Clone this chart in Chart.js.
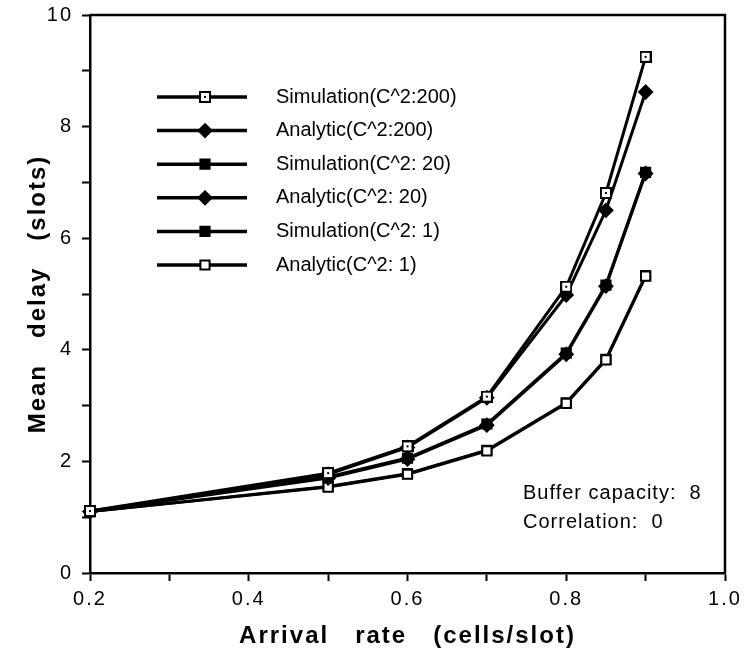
<!DOCTYPE html>
<html>
<head>
<meta charset="utf-8">
<title>Mean delay vs arrival rate</title>
<script src="https://cdn.jsdelivr.net/npm/chart.js@4.4.1/dist/chart.umd.min.js"></script>
<style>
    html, body { margin: 0; padding: 0; background: #fff; }
    #wrap { width: 745px; height: 654px; }
</style>
</head>
<body>
<div id="wrap"><canvas id="delayChart" width="745" height="654"></canvas></div>
<script>
// ========================
// DATA
// ========================
const arrivalRates = [0.2, 0.5, 0.6, 0.7, 0.8, 0.85, 0.9];

const simC200 = [1.11, 1.79, 2.27, 3.16, 5.13, 6.81, 9.25];
const anaC200 = [1.10, 1.77, 2.25, 3.14, 4.98, 6.50, 8.62];
const simC20  = [1.11, 1.72, 2.06, 2.67, 3.94, 5.16, 7.18];
const anaC20  = [1.10, 1.70, 2.04, 2.65, 3.92, 5.14, 7.16];
const simC1   = [1.10, 1.55, 1.78, 2.20, 3.05, 3.83, 5.33];
const anaC1   = [1.10, 1.54, 1.77, 2.19, 3.04, 3.82, 5.32];

const seriesLabels = [
    'Simulation(C^2:200)',
    'Analytic(C^2:200)',
    'Simulation(C^2: 20)',
    'Analytic(C^2: 20)',
    'Simulation(C^2: 1)',
    'Analytic(C^2: 1)'
];

const xTickValues = [0.2, 0.3, 0.4, 0.5, 0.6, 0.7, 0.8, 0.9, 1.0];
const xTickLabels = ['0.2', '', '0.4', '', '0.6', '', '0.8', '', '1.0'];
const yTickValues = [0, 1, 2, 3, 4, 5, 6, 7, 8, 9, 10];
const yTickLabels = ['0', '', '2', '', '4', '', '6', '', '8', '', '10'];

const noteLines = ['Buffer capacity:  8', 'Correlation:  0'];

// ========================
// STYLE HELPERS
// ========================
const FONT = '"Liberation Sans", Arial, Helvetica, sans-serif';

// open square with a small dot in the middle
function dottedSquare() {
    const c = document.createElement('canvas');
    c.width = 12; c.height = 12;
    const g = c.getContext('2d');
    g.fillStyle = '#000';
    g.fillRect(0, 0, 12, 12);
    g.fillStyle = '#fff';
    g.fillRect(2, 2, 8, 8);
    g.fillStyle = '#000';
    g.fillRect(5, 5, 2, 2);
    return c;
}

function toPoints(values) {
    return arrivalRates.map((x, i) => ({ x: x, y: values[i] }));
}

function makeSeries(label, values, style, fill, order) {
    return {
        label: label,
        data: toPoints(values),
        borderColor: '#000',
        borderWidth: 3,
        pointStyle: style,
        pointRadius: 6.5,
        pointHoverRadius: 6.5,
        pointBackgroundColor: fill,
        pointBorderColor: '#000',
        pointBorderWidth: 2,
        tension: 0,
        clip: false,
        order: order
    };
}

// ========================
// PLUGINS
// ========================
const frameAndText = {
    id: 'frameAndText',
    beforeDraw(chart) {
        chart.ctx.letterSpacing = '2px';
    },
    beforeDatasetsDraw(chart) {
        const ctx = chart.ctx;
        const a = chart.chartArea;
        ctx.save();
        ctx.letterSpacing = '0px';
        ctx.strokeStyle = '#000';
        ctx.lineWidth = 2.5;
        ctx.beginPath();
        ctx.moveTo(a.left, a.top);
        ctx.lineTo(a.right, a.top);
        ctx.lineTo(a.right, a.bottom);
        ctx.stroke();
        ctx.restore();
    },
    afterDraw(chart) {
        const ctx = chart.ctx;
        ctx.save();
        ctx.letterSpacing = '0px';

        // legend inside the plot
        chart.data.datasets.forEach((ds, i) => {
            const y = 97 + i * 33.6;
            ctx.strokeStyle = '#000';
            ctx.lineWidth = 3.5;
            ctx.beginPath();
            ctx.moveTo(157, y);
            ctx.lineTo(247, y);
            ctx.stroke();

            ctx.fillStyle = ds.pointBackgroundColor;
            ctx.strokeStyle = '#000';
            ctx.lineWidth = ds.pointBorderWidth;
            Chart.helpers.drawPoint(ctx, {
                pointStyle: ds.pointStyle,
                radius: ds.pointRadius,
                borderWidth: ds.pointBorderWidth,
                rotation: 0
            }, 205, y);

            ctx.fillStyle = '#000';
            ctx.font = '20px ' + FONT;
            ctx.textBaseline = 'middle';
            ctx.textAlign = 'left';
            ctx.fillText(ds.label, 276, y);
        });

        // notes, bottom right
        ctx.letterSpacing = '1px';
        ctx.font = '20px ' + FONT;
        ctx.fillStyle = '#000';
        ctx.textBaseline = 'alphabetic';
        noteLines.forEach((t, i) => {
            ctx.fillText(t, 523, 499 + i * 29);
        });
        ctx.restore();
    }
};

// ========================
// CHART
// ========================
const ctx = document.getElementById('delayChart').getContext('2d');
const delayChart = new Chart(ctx, {
    type: 'line',
    data: {
        datasets: [
            makeSeries(seriesLabels[0], simC200, dottedSquare(), '#fff', 0),
            makeSeries(seriesLabels[1], anaC200, 'rectRot', '#000', 1),
            makeSeries(seriesLabels[2], simC20, 'rect', '#000', 2),
            makeSeries(seriesLabels[3], anaC20, 'rectRot', '#000', 3),
            makeSeries(seriesLabels[4], simC1, 'rect', '#000', 5),
            makeSeries(seriesLabels[5], anaC1, 'rect', '#fff', 4)
        ]
    },
    options: {
        responsive: false,
        devicePixelRatio: 1,
        animation: false,
        layout: { padding: { left: 0, right: 20, top: 15, bottom: 0 } },
        plugins: {
            legend: { display: false },
            tooltip: { enabled: false }
        },
        scales: {
            x: {
                type: 'linear',
                min: 0.2,
                max: 1.0,
                afterFit: s => { s.height = 81; s.paddingLeft = 0; s.paddingRight = 0; },
                afterBuildTicks: s => { s.ticks = xTickValues.map(v => ({ value: v })); },
                grid: { drawOnChartArea: false, drawTicks: true, tickLength: 8, tickWidth: 2, tickColor: '#000' },
                border: { color: '#000', width: 2.5 },
                ticks: {
                    color: '#000',
                    autoSkip: false,
                    maxRotation: 0,
                    padding: 6,
                    font: { family: FONT, size: 20 },
                    callback: (v, i) => xTickLabels[i]
                },
                title: {
                    display: true,
                    text: 'Arrival   rate   (cells/slot)',
                    color: '#000',
                    font: { family: FONT, size: 24, weight: 'bold' },
                    padding: { top: 0, bottom: 3 }
                }
            },
            y: {
                min: 0,
                max: 10,
                afterFit: s => { s.width = 90; s.paddingTop = 0; s.paddingBottom = 0; },
                afterBuildTicks: s => { s.ticks = yTickValues.map(v => ({ value: v })); },
                grid: { drawOnChartArea: false, drawTicks: true, tickLength: 8, tickWidth: 2, tickColor: '#000' },
                border: { color: '#000', width: 2.5 },
                ticks: {
                    color: '#000',
                    autoSkip: false,
                    padding: 9,
                    font: { family: FONT, size: 20 },
                    callback: (v, i) => yTickLabels[i]
                },
                title: {
                    display: true,
                    text: 'Mean   delay   (slots)',
                    color: '#000',
                    font: { family: FONT, size: 24, weight: 'bold' },
                    padding: { top: 24, bottom: 0 }
                }
            }
        }
    },
    plugins: [frameAndText]
});
</script>
</body>
</html>
